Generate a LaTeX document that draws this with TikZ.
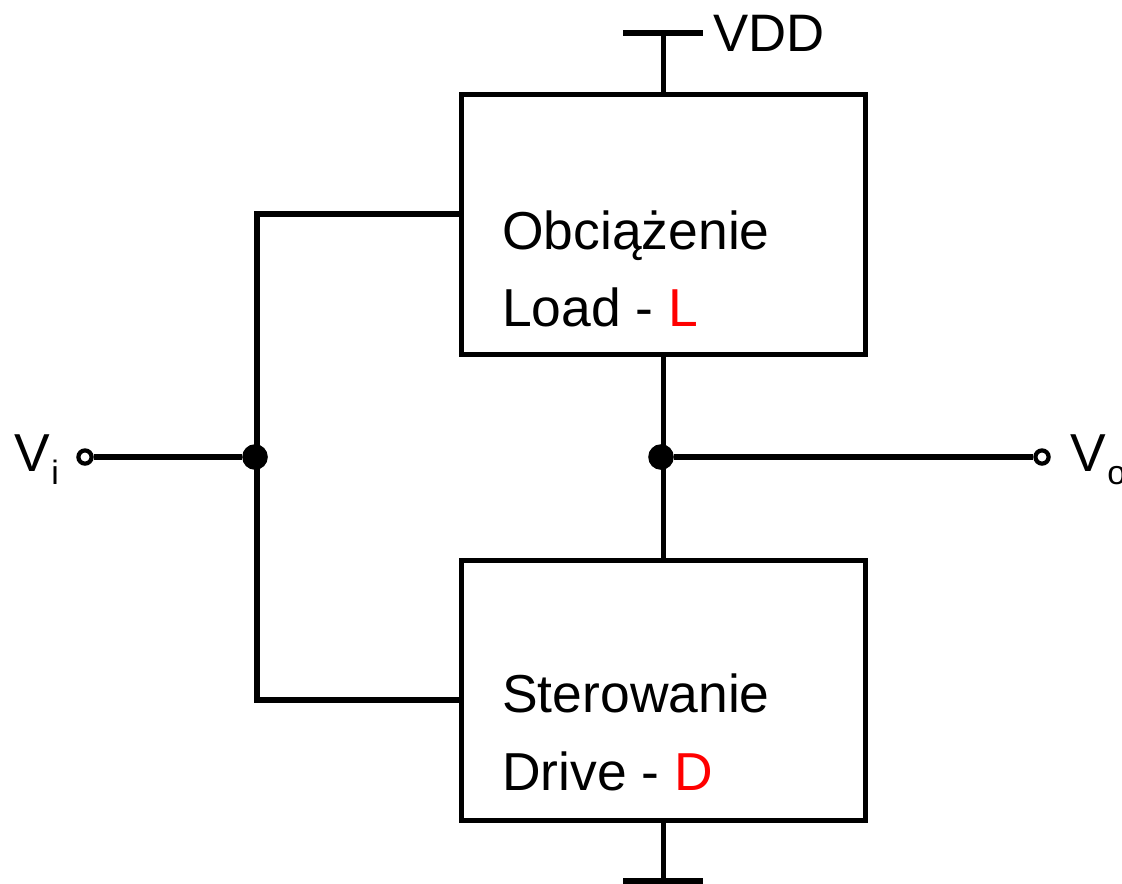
\documentclass[tikz,border=0pt]{standalone}
\usepackage{fontspec}
\setmainfont{Liberation Sans}
\usetikzlibrary{positioning}
\definecolor{labelred}{RGB}{255,0,0}
\tikzset{
  wire/.style={line width=3.7pt},
  iowire/.style={line width=4.2pt},
  block/.style={draw,line width=3pt,minimum width=10.1cm,minimum height=6.5cm,inner sep=0pt},
  label/.style={anchor=base west,inner sep=0pt,font=\fontsize{38}{38}\selectfont},
  supplylabel/.style={anchor=base west,inner sep=0pt,font=\fontsize{37.5}{37.5}\selectfont},
  sublabel/.style={anchor=base west,inner sep=0pt,font=\fontsize{24}{24}\selectfont},
  junction/.style={circle,fill=black,draw=none,minimum size=0.64cm,inner sep=0pt},
  terminal/.style={circle,fill=white,draw,line width=3pt,minimum size=0.33cm,inner sep=0pt}
}
\begin{document}
\begin{tikzpicture}[x=0.025cm,y=-0.025cm]
\useasboundingbox (0,0) rectangle (1122,883);

\node [block] (load) at (663.5,224.5) {};
\node [block] (drive) at (663.5,690.5) {};

\coordinate (vddstem) at (663.5,33);
\coordinate (vddleft) at (623,33);
\coordinate (vddright) at (703,33);
\coordinate (gndstem) at (663.5,881);
\coordinate (gndleft) at (623,881);
\coordinate (gndright) at (703,881);
\coordinate (loadin) at (461,214);
\coordinate (loadcorner) at (257,214);
\coordinate (drivein) at (461,700);
\coordinate (drivecorner) at (257,700);

\draw [wire] (vddleft) -- (vddright);
\draw [wire] (vddstem) -- (load.north);
\draw [wire] (gndleft) -- (gndright);
\draw [wire] (drive.south) -- (gndstem);
\draw [wire] (load.south) -- (drive.north);
\draw [wire] (loadin) -- (loadcorner) -- (drivecorner) -- (drivein);

\node [terminal] (vi) at (85,457) {};
\node [terminal] (vo) at (1042,457) {};
\node [junction] (inputdot) at (255,457) {};
\node [junction] (outputdot) at (661,457) {};

\draw [iowire] (vi) -- (inputdot);
\draw [iowire] (outputdot) -- (vo);

\node [supplylabel] (vddtext) at (713,51) {VDD};
\node [label] (loadname) at (502,249) {Obciążenie};
\node [label] (loadtext) at (502,326) {Load - \textcolor{labelred}{L}};
\node [label] (drivename) at (502,712) {Sterowanie};
\node [label] (drivetext) at (502,790) {Drive - \textcolor{labelred}{D}};
\node [label] (vitext) at (14,471) {V};
\node [sublabel] (visub) at (51,484) {i};
\node [label] (votext) at (1070,471) {V};
\node [sublabel] (vosub) at (1107,484) {o};
\end{tikzpicture}
\end{document}
